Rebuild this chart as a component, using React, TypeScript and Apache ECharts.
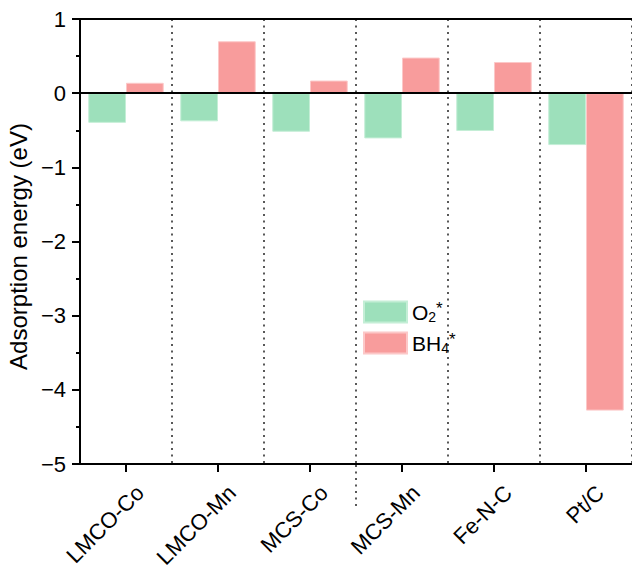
import React, { useEffect, useRef } from "react";
import * as echarts from "echarts";

const categories = ["LMCO-Co", "LMCO-Mn", "MCS-Co", "MCS-Mn", "Fe-N-C", "Pt/C"];
const o2Values = [-0.40, -0.38, -0.52, -0.61, -0.51, -0.70];
const bh4Values = [0.14, 0.70, 0.17, 0.48, 0.42, -4.28];
const seriesNames = ["O2*", "BH4*"];
const yTicks = { min: -5, max: 1, interval: 1 };

const FONT = "'Liberation Sans', Arial, sans-serif";

export default function App() {
  const ref = useRef<HTMLDivElement>(null);
  useEffect(() => {
    if (!ref.current) return;
    const chart = echarts.init(ref.current, null, { renderer: "svg" });
    chart.setOption({
      animation: false,
      backgroundColor: "#ffffff",
      textStyle: { fontFamily: FONT },
      grid: { left: 80, right: 0, top: 19, bottom: 107, containLabel: false, outerBoundsMode: "none" },
      legend: {
        orient: "vertical",
        left: 363,
        top: 300,
        padding: 0,
        itemWidth: 43,
        itemHeight: 21,
        itemGap: 7,
        icon: "rect",
        data: seriesNames,
        formatter: (name: string) =>
          name === "O2*" ? "{m|O}{sub|2}{sup|*}" : "{m|BH}{sub|4}{sup|*}",
        textStyle: {
          color: "#000",
          fontFamily: FONT,
          rich: {
            m: { fontSize: 21, fontFamily: FONT, color: "#000", lineHeight: 24 },
            sub: { fontSize: 14, fontFamily: FONT, color: "#000", verticalAlign: "bottom", lineHeight: 24, padding: [9, 0, 0, 0] },
            sup: { fontSize: 17, fontFamily: FONT, color: "#000", verticalAlign: "top", lineHeight: 24, padding: [0, 0, 6, 0] },
          },
        },
      },
      xAxis: [
        {
          type: "category",
          data: categories,
          position: "bottom",
          axisLine: { show: true, onZero: false, lineStyle: { color: "#000", width: 2 } },
          axisTick: { show: true, alignWithLabel: true, length: 8, lineStyle: { color: "#000", width: 2 } },
          axisLabel: {
            rotate: 45,
            interval: 0,
            margin: 11,
            align: "right",
            verticalAlign: "top",
            padding: [9, 0, 0, 0],
            fontSize: 22,
            lineHeight: 22,
            color: "#000",
            fontFamily: FONT,
            hideOverlap: false,
          },
          splitLine: {
            show: true,
            interval: 0,
            lineStyle: { color: "#222", width: 1.5, type: [2, 4.5] },
          },
        },
        {
          type: "category",
          data: categories,
          position: "top",
          axisLine: { show: true, onZero: false, lineStyle: { color: "#000", width: 2 } },
          axisTick: { show: false },
          axisLabel: { show: false },
          splitLine: { show: false },
        },
      ],
      yAxis: {
        type: "value",
        min: yTicks.min,
        max: yTicks.max,
        interval: yTicks.interval,
        name: "Adsorption energy (eV)",
        nameLocation: "middle",
        nameGap: 37,
        nameTextStyle: { fontSize: 24, color: "#000", fontFamily: FONT, padding: [0, 10, 0, 0] },
        axisLine: { show: true, lineStyle: { color: "#000", width: 2 } },
        axisTick: { show: true, length: 8, lineStyle: { color: "#000", width: 2 } },
        minorTick: { show: true, splitNumber: 2, length: 4, lineStyle: { color: "#000", width: 2 } },
        axisLabel: {
          fontSize: 22,
          color: "#000",
          margin: 14,
          fontFamily: FONT,
          formatter: (v: number) => String(v).replace("-", "\u2212"),
        },
        splitLine: { show: false },
      },
      series: [
        {
          name: seriesNames[0],
          type: "bar",
          data: o2Values,
          barGap: "0%",
          barCategoryGap: "18%",
          itemStyle: { color: "#9de0bb", borderColor: "#c4eed6", borderWidth: 1 },
          markLine: {
            silent: true,
            symbol: "none",
            label: { show: false },
            lineStyle: { color: "#000", width: 2, type: "solid" },
            data: [{ yAxis: 0 }],
          },
        },
        {
          name: seriesNames[1],
          type: "bar",
          data: bh4Values,
          barGap: "0%",
          barCategoryGap: "18%",
          itemStyle: { color: "#f89c9c", borderColor: "#fcc8c8", borderWidth: 1 },
        },
      ],
      graphic: [
        {
          type: "line",
          shape: { x1: 356, y1: 465, x2: 356, y2: 508 },
          style: { stroke: "#222", lineWidth: 1.5, lineDash: [2, 4.5] },
        },
      ],
    });
    return () => chart.dispose();
  }, []);
  return <div ref={ref} style={{ width: 632, height: 571, position: "absolute", left: 0, top: 0 }} />;
}
